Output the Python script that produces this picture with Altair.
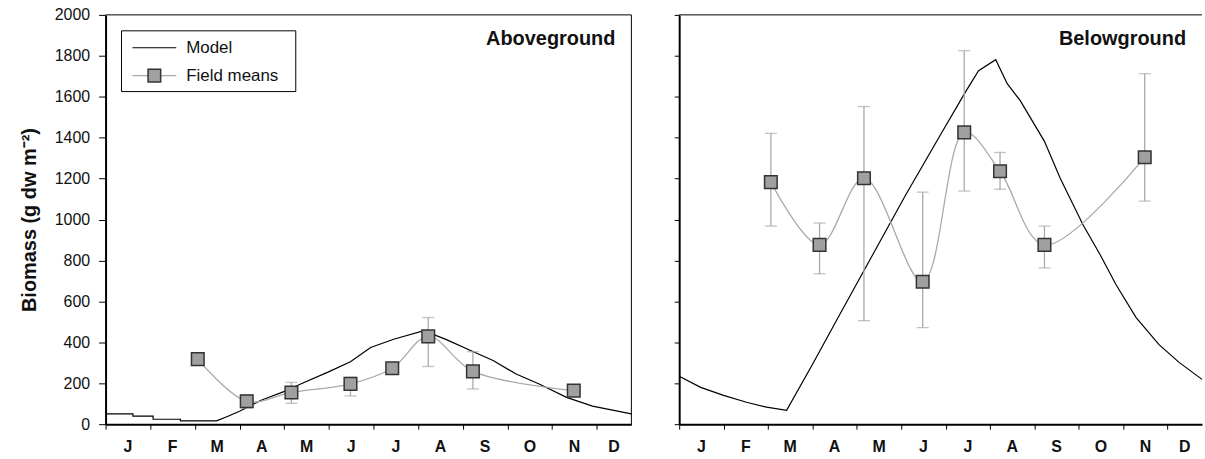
import altair as alt
import pandas as pd

FONT = "Liberation Sans, Arial, Helvetica, sans-serif"

months = ["J", "F", "M", "A", "M", "J", "J", "A", "S", "O", "N", "D"]
month_starts = [0, 31, 62, 93, 124, 155, 186, 217, 248, 279, 310, 341]
month_centers = [15.5, 46.5, 77.5, 108.5, 139.5, 170.5, 201.5, 232.5, 263.5, 294.5, 325.5, 353]
y_ticks = [0, 200, 400, 600, 800, 1000, 1200, 1400, 1600, 1800, 2000]

# Model (aboveground)
above_model_day = [0, 19, 19, 33, 33, 52, 52, 77, 85, 93, 108, 126, 135, 154, 170, 184,
                   200, 221, 237, 253, 269, 285, 301, 320, 338, 365]
above_model_val = [50, 50, 39, 39, 24, 24, 16, 16, 39, 63, 117, 165, 195, 253, 305, 375,
                   415, 457, 412, 361, 311, 245, 196, 131, 88, 50]

# Model (belowground)
below_model_day = [0, 15, 31, 47, 61, 75, 93, 112, 135, 158, 181, 200, 209, 221, 229, 238,
                   255, 266, 282, 294, 305, 319, 335, 349, 365]
below_model_val = [234, 180, 141, 107, 83, 68, 292, 535, 827, 1119, 1397, 1625, 1727, 1781,
                   1664, 1582, 1382, 1202, 973, 827, 681, 521, 389, 302, 219]

# Field means
field_day = [64, 98, 129, 170, 199, 224, 255, 325]
above_mean = [318, 112, 155, 197, 273, 429, 258, 164]
above_lo = [303, 79, 102, 138, 262, 282, 172, 150]
above_hi = [333, 144, 204, 229, 284, 521, 354, 178]
below_mean = [1183, 876, 1202, 696, 1426, 1236, 876, 1304]
below_lo = [968, 735, 506, 472, 1139, 1148, 764, 1090]
below_hi = [1421, 983, 1552, 1134, 1825, 1328, 968, 1713]

H = 411
GRAY = "#a9a9a9"
one = pd.DataFrame({"k": [0]})


def panel(model_day, model_val, mean, lo, hi, title, width, first):
    xs = alt.Scale(domain=[0, 365], nice=False, zero=False)
    ys = alt.Scale(domain=[0, 2000], nice=False)
    xa = alt.Axis(values=month_starts, labels=False, title=None, tickSize=5,
                  domainWidth=2, grid=False)
    if first:
        ya = alt.Axis(values=y_ticks, format="d", title="Biomass (g dw m⁻²)", tickSize=7,
                      labelPadding=9, titlePadding=15, domainWidth=2, grid=False)
    else:
        ya = alt.Axis(values=y_ticks, labels=False, title=None, tickSize=5,
                      domainWidth=2, grid=False)

    def X(f):
        return alt.X(f, type="quantitative", scale=xs, axis=xa)

    def Y(f):
        return alt.Y(f, type="quantitative", scale=ys, axis=ya)

    mdf = pd.DataFrame({"day": model_day, "val": model_val})
    fdf = pd.DataFrame({"day": field_day, "mean": mean, "lo": lo, "hi": hi})
    ldf = pd.DataFrame({"c": month_centers, "m": months})

    model = alt.Chart(mdf).mark_line(color="black", strokeWidth=1.2).encode(x=X("day"), y=Y("val"))
    err = alt.Chart(fdf).mark_rule(color=GRAY, strokeWidth=1.3).encode(x=X("day"), y=Y("lo"), y2="hi")
    cap_lo = alt.Chart(fdf).mark_tick(color=GRAY, orient="horizontal", size=12, thickness=1.3).encode(x=X("day"), y=Y("lo"))
    cap_hi = alt.Chart(fdf).mark_tick(color=GRAY, orient="horizontal", size=12, thickness=1.3).encode(x=X("day"), y=Y("hi"))
    fline = alt.Chart(fdf).mark_line(color=GRAY, strokeWidth=1.3, interpolate="catmull-rom").encode(x=X("day"), y=Y("mean"))
    fpts = alt.Chart(fdf).mark_square(size=160, color="#a0a0a0", opacity=1, stroke="#333333",
                                      strokeWidth=1.5).encode(x=X("day"), y=Y("mean"))
    mlab = alt.Chart(ldf).mark_text(fontSize=16, fontWeight="bold", font=FONT, baseline="middle",
                                    color="#111").encode(x=X("c"), y=alt.value(H + 23), text="m:N")
    top = alt.Chart(one).mark_rule(color="black", strokeWidth=1).encode(
        x=alt.value(0), x2=alt.value(width), y=alt.value(0))
    ttl = alt.Chart(one).mark_text(align="right", baseline="middle", fontSize=20, fontWeight="bold",
                                   font=FONT, color="#111").encode(
        x=alt.value(width - 16), y=alt.value(24), text=alt.value(title))
    layers = [top, model, err, cap_lo, cap_hi, fline, fpts, mlab, ttl]
    if first:
        right = alt.Chart(one).mark_rule(color="black", strokeWidth=1).encode(
            x=alt.value(width), y=alt.value(0), y2=alt.value(H))
        box = alt.Chart(one).mark_rect(fill="white", stroke="black", strokeWidth=1).encode(
            x=alt.value(16), x2=alt.value(191), y=alt.value(16), y2=alt.value(77))
        l1 = alt.Chart(one).mark_rule(color="black", strokeWidth=1.2).encode(
            x=alt.value(27), x2=alt.value(71), y=alt.value(33))
        t1 = alt.Chart(one).mark_text(align="left", baseline="middle", fontSize=17, font=FONT,
                                      color="#111").encode(x=alt.value(81), y=alt.value(33),
                                                           text=alt.value("Model"))
        l2 = alt.Chart(one).mark_rule(color=GRAY, strokeWidth=1.3).encode(
            x=alt.value(27), x2=alt.value(71), y=alt.value(61))
        s2 = alt.Chart(one).mark_square(size=160, color="#a0a0a0", opacity=1, stroke="#333333",
                                        strokeWidth=1.5).encode(x=alt.value(49), y=alt.value(61))
        t2 = alt.Chart(one).mark_text(align="left", baseline="middle", fontSize=17, font=FONT,
                                      color="#111").encode(x=alt.value(81), y=alt.value(61),
                                                           text=alt.value("Field means"))
        layers += [right, box, l1, t1, l2, s2, t2]
    return alt.layer(*layers).properties(width=width, height=H)


left = panel(above_model_day, above_model_val, above_mean, above_lo, above_hi, "Aboveground", 528, True)
right = panel(below_model_day, below_model_val, below_mean, below_lo, below_hi, "Belowground", 525, False)

chart = alt.hconcat(left, right, spacing=39).properties(
    padding={"left": 19, "top": 6, "right": 0, "bottom": 0}
).configure_view(stroke=None).configure_axis(
    labelFont=FONT, titleFont=FONT, labelFontSize=16, titleFontSize=20, titleFontWeight="bold",
    labelColor="#111", titleColor="#111", domainColor="black", tickColor="black", tickWidth=1
)

chart.save("out.html", embed_options={"renderer": "svg", "actions": False})
